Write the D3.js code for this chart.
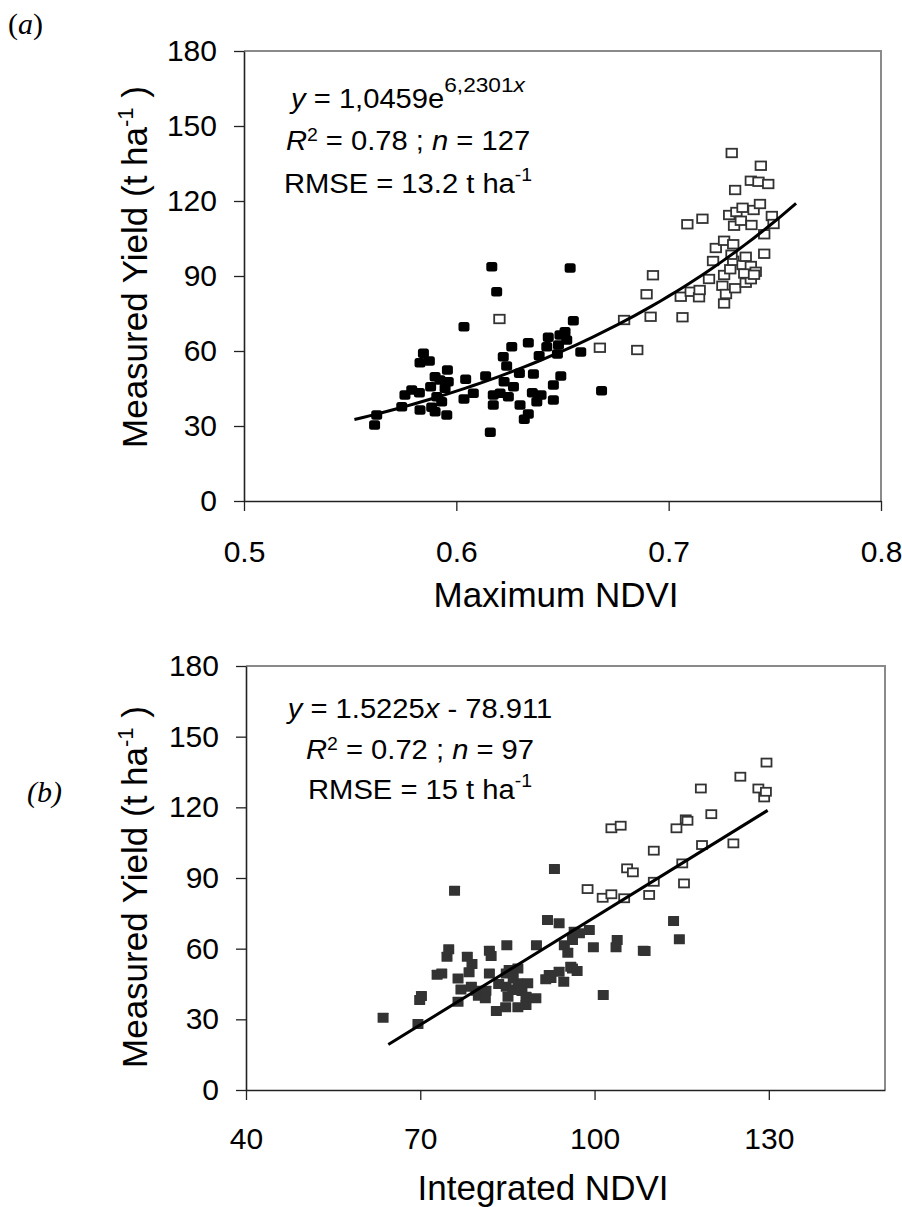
<!DOCTYPE html>
<html>
<head>
<meta charset="utf-8">
<style>
  body { margin: 0; background: #fff; }
  text { white-space: pre; }
</style>
</head>
<body>
<div id="chart"></div>
<script src="https://cdn.jsdelivr.net/npm/d3@7"></script>
<script>
// ---- panel (a): maximum NDVI vs measured yield, [ndvi, yield]
const maxNdviFilled = [
  [0.5615,30.4],[0.5625,34.4],[0.5743,37.7],[0.5758,42.4],[0.5790,44.4],[0.5826,43.3],
  [0.5829,36.4],[0.5829,55.3],[0.5845,59.1],[0.5873,56.0],[0.5879,45.7],[0.5884,37.5],
  [0.5900,35.7],[0.5900,49.7],[0.5908,41.7],[0.5923,48.4],[0.5931,39.7],[0.5947,45.1],
  [0.5955,34.4],[0.5958,52.4],[0.5962,47.7],[0.6036,40.8],[0.6036,69.7],[0.6044,48.7],
  [0.6080,43.1],[0.6138,50.0],[0.6160,27.5],[0.6167,93.7],[0.6174,38.4],[0.6174,42.4],
  [0.6190,83.7],[0.6206,43.1],[0.6221,57.7],[0.6225,47.7],[0.6237,54.0],[0.6245,41.7],
  [0.6261,61.7],[0.6269,45.7],[0.6297,51.1],[0.6300,38.4],[0.6320,32.7],[0.6339,34.8],
  [0.6339,63.3],[0.6358,43.3],[0.6363,50.8],[0.6379,39.7],[0.6390,58.1],[0.6399,42.4],
  [0.6426,61.7],[0.6433,65.5],[0.6457,40.4],[0.6457,46.4],[0.6476,58.8],[0.6481,62.4],
  [0.6488,66.4],[0.6492,50.0],[0.6512,67.7],[0.6520,64.4],[0.6536,93.2],[0.6551,72.1],
  [0.6586,59.6],[0.6684,44.1]
];
const maxNdviOpen = [
  [0.6203,72.8],[0.6676,61.3],[0.6790,72.4],[0.6852,60.4],[0.6896,82.7],[0.6915,73.7],
  [0.6926,90.3],[0.7057,81.7],[0.7065,73.5],[0.7088,110.7],[0.7104,83.7],[0.7143,81.5],
  [0.7146,84.4],[0.7159,112.9],[0.7190,88.8],[0.7209,96.0],[0.7222,101.2],[0.7253,86.1],
  [0.7261,79.0],[0.7261,90.4],[0.7261,104.1],[0.7270,82.8],[0.7285,114.4],[0.7290,92.7],
  [0.7297,139.2],[0.7304,96.1],[0.7304,102.7],[0.7308,110.1],[0.7313,85.1],[0.7313,124.4],
  [0.7319,115.6],[0.7340,112.1],[0.7348,94.4],[0.7348,117.3],[0.7363,87.3],[0.7363,97.7],
  [0.7387,88.7],[0.7387,94.0],[0.7387,128.1],[0.7390,110.4],[0.7400,116.4],[0.7410,91.7],
  [0.7423,127.7],[0.7430,118.8],[0.7434,134.1],[0.7450,98.9],[0.7450,106.7],[0.7469,126.8],
  [0.7486,114.0],[0.7494,110.8],[0.7296,98.5],[0.7356,91.0],[0.7402,90.5]
];
const trendA = [1.0459, 6.2301];        // y = a * e^(b x)
const trendARange = [0.552, 0.760];
const xTicksA = [0.5, 0.6, 0.7, 0.8];

// ---- panel (b): integrated NDVI vs measured yield
const intNdviFilled = [
  [63.6,30.7],[69.6,28.0],[69.9,38.2],[70.2,39.9],[72.9,48.9],[73.7,49.5],[74.6,56.6],
  [74.9,59.7],[75.9,84.6],[76.5,37.5],[76.5,47.3],[77.0,42.7],[78.1,56.6],[78.4,50.0],
  [78.8,43.8],[78.9,53.5],[79.6,42.1],[80.0,40.0],[81.2,38.9],[81.3,42.1],[81.9,49.5],
  [81.9,59.1],[82.2,56.9],[83.1,33.5],[83.5,45.0],[84.7,35.1],[84.8,43.8],[84.8,49.5],
  [84.9,61.5],[85.1,39.6],[85.3,50.9],[85.9,42.4],[86.0,47.5],[86.8,35.1],[86.8,45.3],
  [86.8,51.6],[87.5,42.0],[88.2,36.1],[88.2,39.6],[88.5,45.3],[89.9,38.9],[90.0,61.5],
  [91.6,47.0],[91.9,72.2],[92.2,48.8],[92.5,47.5],[93.1,93.8],[93.9,50.2],[93.9,70.8],
  [94.7,46.0],[94.8,61.5],[95.4,58.3],[95.9,52.3],[96.2,51.6],[96.2,63.7],[96.5,67.2],
  [97.0,50.5],[97.4,66.5],[99.1,67.9],[99.8,60.6],[101.5,40.3],[103.7,60.6],[103.9,63.7],
  [108.4,59.1],[108.7,59.0],[113.6,71.7],[114.6,64.0]
];
const intNdviOpen = [
  [98.8,85.3],[101.4,81.6],[102.9,83.1],[102.9,111.1],[104.5,112.2],[105.1,81.4],
  [105.6,94.1],[106.6,92.4],[109.4,82.8],[110.2,88.4],[110.2,101.6],[114.1,111.1],
  [115.1,96.2],[115.4,87.7],[115.7,114.9],[116.0,114.3],[118.3,128.0],[118.5,104.0],
  [120.1,117.1],[123.9,104.7],[125.1,133.0],[128.2,128.0],[129.2,124.2],[129.5,126.6],
  [129.6,139.0]
];
const trendB = [1.5225, -78.911];       // y = a x + b
const trendBRange = [64.5, 129.8];
const xTicksB = [40, 70, 100, 130];

const yTicks = [0, 30, 60, 90, 120, 150, 180];

const FONT = "'Liberation Sans', Arial, sans-serif";
const SERIF = "'Liberation Serif', 'Times New Roman', serif";

const svg = d3.select("#chart").append("svg")
  .attr("width", 902)
  .attr("height", 1207);

// text with italic / superscript runs (sx = horizontal stretch)
function rich(sel, x, y, parts, size, anchor, sx) {
  const t = sel.append("g")
    .attr("transform", `translate(${x},${y}) scale(${sx || 1},1)`)
    .append("text")
    .attr("text-anchor", anchor || "middle")
    .attr("font-family", FONT)
    .attr("font-size", size)
    .attr("fill", "#000");
  let shift = 0;
  parts.forEach(p => {
    const ts = t.append("tspan").text(p.t);
    const target = p.sup ? -p.sup : 0;
    if (target !== shift) { ts.attr("dy", target - shift); shift = target; }
    if (p.it) ts.attr("font-style", "italic");
    if (p.fs) ts.attr("font-size", p.fs);
  });
  return t;
}

function panel(cfg) {
  const x = d3.scaleLinear().domain(cfg.xDomain).range([cfg.left, cfg.right]);
  const y = d3.scaleLinear().domain([0, 180]).range([cfg.bottom, cfg.top]);
  const g = svg.append("g");

  // plot area frame (top / right in gray)
  g.append("path")
    .attr("d", `M${cfg.left},${cfg.top}H${cfg.right}V${cfg.bottom}`)
    .attr("fill", "none")
    .attr("stroke", "#8a8a8a")
    .attr("stroke-width", 2);

  // open markers
  g.selectAll("rect.open")
    .data(cfg.open)
    .join("rect")
    .attr("class", "open")
    .attr("x", d => x(d[0]) - cfg.openSize[0] / 2)
    .attr("y", d => y(d[1]) - cfg.openSize[1] / 2)
    .attr("width", cfg.openSize[0])
    .attr("height", cfg.openSize[1])
    .attr("fill", "#fff")
    .attr("stroke", "#333")
    .attr("stroke-width", 1.8);

  // filled markers
  g.selectAll("rect.filled")
    .data(cfg.filled)
    .join("rect")
    .attr("class", "filled")
    .attr("x", d => x(d[0]) - cfg.fillSize[0] / 2)
    .attr("y", d => y(d[1]) - cfg.fillSize[1] / 2)
    .attr("width", cfg.fillSize[0])
    .attr("height", cfg.fillSize[1])
    .attr("rx", cfg.fillRound)
    .attr("fill", cfg.fillColor);

  // trend line
  g.append("path")
    .datum(cfg.trend)
    .attr("d", d3.line().x(d => x(d[0])).y(d => y(d[1])))
    .attr("fill", "none")
    .attr("stroke", "#000")
    .attr("stroke-width", 3);

  // axes
  const ay = g.append("g")
    .attr("transform", `translate(${cfg.left},0)`)
    .call(d3.axisLeft(y).tickValues(yTicks).tickSize(10).tickPadding(17).tickSizeOuter(0));
  const ax = g.append("g")
    .attr("transform", `translate(0,${cfg.bottom})`)
    .call(d3.axisBottom(x).tickValues(cfg.xTicks).tickFormat(cfg.xFormat)
      .tickSize(10).tickPadding(cfg.xPad).tickSizeOuter(0));
  [ay, ax].forEach(a => {
    a.select(".domain").attr("stroke", "#222").attr("stroke-width", 1.6);
    a.selectAll(".tick line").attr("stroke", "#222").attr("stroke-width", 1.3);
    a.selectAll(".tick text")
      .attr("font-family", FONT)
      .attr("font-size", 30)
      .attr("fill", "#000");
  });

  // axis titles
  g.append("text")
    .attr("x", cfg.xTitleX).attr("y", cfg.xTitleY)
    .attr("text-anchor", "middle")
    .attr("font-family", FONT)
    .attr("font-size", 35)
    .text(cfg.xTitle);

  const yt = g.append("g")
    .attr("transform", `translate(147,${cfg.yTitleEnd}) rotate(-90)`);
  rich(yt, 0, 0, [
    { t: "Measured Yield (t ha" },
    { t: "-1", sup: 14, fs: 22 },
    { t: " )" }
  ], 35, "end");

  // annotation
  cfg.notes.forEach((n, i) => rich(g, cfg.noteX, cfg.noteY[i], n, 27, "middle", 1.08));
}

// panel (a)
panel({
  xDomain: [0.5, 0.8], left: 244, right: 881, top: 51, bottom: 501,
  xTicks: xTicksA, xFormat: d3.format(".1f"), xPad: 30,
  filled: maxNdviFilled, open: maxNdviOpen,
  fillSize: [11, 9.5], fillRound: 2.5, fillColor: "#000",
  openSize: [10.5, 8.5],
  trend: d3.range(trendARange[0], trendARange[1] + 0.0001, 0.004)
    .map(v => [v, trendA[0] * Math.exp(trendA[1] * v)]),
  xTitle: "Maximum NDVI", xTitleX: 556, xTitleY: 607,
  yTitleEnd: 86,
  noteX: 408, noteY: [108, 150, 193],
  notes: [
    [{ t: "y", it: true }, { t: " = 1,0459e" }, { t: "6,2301", sup: 16, fs: 21 }, { t: "x", it: true, sup: 16, fs: 21 }],
    [{ t: "R", it: true }, { t: "2", sup: 9, fs: 18 }, { t: " = 0.78 ; " }, { t: "n", it: true }, { t: " = 127" }],
    [{ t: "RMSE = 13.2 t ha" }, { t: "-1", sup: 12, fs: 18 }]
  ]
});

// panel (b)
panel({
  xDomain: [40, 150], left: 246, right: 885, top: 666, bottom: 1090,
  xTicks: xTicksB, xFormat: d3.format("d"), xPad: 28,
  filled: intNdviFilled, open: intNdviOpen,
  fillSize: [11, 10], fillRound: 0.5, fillColor: "#333",
  openSize: [10, 8],
  trend: trendBRange.map(v => [v, trendB[0] * v + trendB[1]]),
  xTitle: "Integrated NDVI", xTitleX: 543, xTitleY: 1200,
  yTitleEnd: 706,
  noteX: 420, noteY: [718, 759, 799],
  notes: [
    [{ t: "y", it: true }, { t: " = 1.5225" }, { t: "x", it: true }, { t: " - 78.911" }],
    [{ t: "R", it: true }, { t: "2", sup: 9, fs: 18 }, { t: " = 0.72 ; " }, { t: "n", it: true }, { t: " = 97" }],
    [{ t: "RMSE = 15 t ha" }, { t: "-1", sup: 12, fs: 18 }]
  ]
});

// panel letters
const la = svg.append("text")
  .attr("x", 8).attr("y", 34)
  .attr("font-family", SERIF)
  .attr("font-size", 30);
la.append("tspan").text("(");
la.append("tspan").attr("font-style", "italic").text("a");
la.append("tspan").text(")");

svg.append("text")
  .attr("x", 27).attr("y", 802)
  .attr("font-family", SERIF)
  .attr("font-size", 30)
  .attr("font-style", "italic")
  .text("(b)");
</script>
</body>
</html>
